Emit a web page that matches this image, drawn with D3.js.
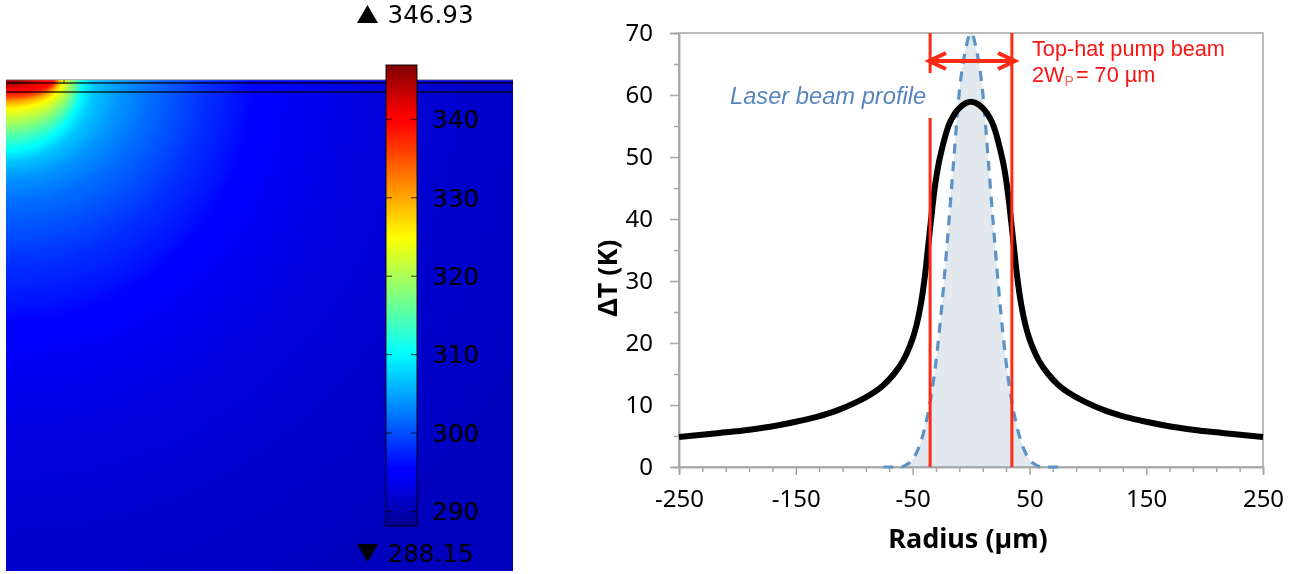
<!DOCTYPE html>
<html>
<head>
<meta charset="utf-8">
<script src="https://cdn.jsdelivr.net/npm/d3@7"></script>
<style>
	html, body { margin: 0; padding: 0; background: #fff; }
	svg { display: block; filter: blur(0.4px); }
	text { fill: #000; }
</style>
</head>
<body>
<svg id="chart"></svg>
<script>
const svgWidth = 1298
const svgHeight = 574

// left panel: isotherms, T in K, reach along surface / into depth in um
const isoTemps = [291.2, 292, 293, 294, 295, 296.5, 298, 300, 302, 304, 307, 310, 314, 318, 322, 325, 328, 331, 335, 338, 340, 342, 344, 346]
const isoRadial = [343.2, 254.4, 204.1, 171.6, 150.9, 139.1, 121.3, 103.6, 85.8, 69.8, 52.7, 45.6, 42.6, 39.6, 36.1, 33.7, 32, 30.8, 29.6, 28.4, 26.6, 19.5, 13, 8.3]
const isoDepth = [338.5, 255.6, 205.3, 169.8, 149.1, 134.9, 112.4, 91.7, 72.2, 59.2, 48.5, 42.6, 34.9, 28.4, 21.9, 17.2, 14.8, 12.4, 10.7, 8.3, 6.5, 4.7, 3, 1.8]
const farFieldTemp = 290.8

const colorbarTicks = [290, 300, 310, 320, 330, 340]
const tempMin = 288.15
const tempMax = 346.93
const jetStops = [0, 0.11, 0.125, 0.375, 0.5, 0.625, 0.875, 0.89, 1]
const jetColors = ["#00008f", "#0000ff", "#0000ff", "#00ffff", "#80ff80", "#ffff00", "#ff0000", "#ff0000", "#800000"]

// right panel: temperature rise and laser profile
const radius = [-250, -215, -195, -172, -150, -132, -115, -97.6, -85, -75, -66, -58, -50, -46.5, -43, -40, -37, -33, -30, -26.5, -18, -9.5, 0, 9.5, 18, 26.5, 30, 33, 37, 40, 43, 46.5, 50, 58, 66, 75, 85, 97.6, 115, 132, 150, 172, 195, 215, 250]
const deltaT = [4.85, 5.5, 5.9, 6.5, 7.3, 8.1, 9.1, 10.5, 11.8, 13.2, 15, 17.2, 20.7, 23, 26.2, 30, 35, 42, 46.4, 50, 55.6, 58, 58.9, 58, 55.6, 50, 46.4, 42, 35, 30, 26.2, 23, 20.7, 17.2, 15, 13.2, 11.8, 10.5, 9.1, 8.1, 7.3, 6.5, 5.9, 5.5, 4.85]
const profileR = [-75, -60, -55, -50, -45, -40, -35, -30, -25, -20, -15, -10, -5, 0, 5, 10, 15, 20, 25, 30, 35, 40, 45, 50, 55, 60, 75]
const profileV = [0, 0, 0.4, 1.2, 3, 6, 10.5, 17, 26, 37, 49, 60.5, 67, 70, 67, 60.5, 49, 37, 26, 17, 10.5, 6, 3, 1.2, 0.4, 0, 0]
const pumpEdges = [-35, 35]

const xMajor = [-250, -150, -50, 50, 150, 250]
const xMinor = [-230, -210, -190, -170, -130, -110, -90, -70, -30, -10, 10, 30, 70, 90, 110, 130, 170, 190, 210, 230]
const yMajor = [0, 10, 20, 30, 40, 50, 60, 70]
const yMinor = [5, 15, 25, 35, 45, 55, 65]

const svg = d3.select("#chart")
	.attr("width", svgWidth)
	.attr("height", svgHeight)
	.attr("viewBox", [0, 0, svgWidth, svgHeight])

const defs = svg.append("defs")

// ---- left panel ----
const map = { left: 6, right: 513, top: 79, bottom: 571, surface: 80 }
const rScale = d3.scaleLinear().domain([0, 300]).range([0, 507])
const depthScale = d3.scaleLinear().domain([0, 290]).range([0, 490])
const jet = d3.scaleLinear()
	.domain(jetStops.map(t => tempMin + t * (tempMax - tempMin)))
	.range(jetColors)
	.clamp(true)

defs.append("clipPath").attr("id", "mapClip")
	.append("rect")
	.attr("x", map.left)
	.attr("y", map.top)
	.attr("width", map.right - map.left)
	.attr("height", map.bottom - map.top)

const mapGroup = svg.append("g").attr("clip-path", "url(#mapClip)")
mapGroup.append("rect")
	.attr("x", map.left)
	.attr("y", map.top)
	.attr("width", map.right - map.left)
	.attr("height", map.bottom - map.top)
	.attr("fill", jet(farFieldTemp))

// shade between neighbouring isotherms so the map looks continuous
const bands = []
const steps = 8
isoTemps.forEach((t, i) => {
	if (i === isoTemps.length - 1) {
		bands.push({ t: t, a: isoRadial[i], b: isoDepth[i] })
		return
	}
	for (let s = 0; s < steps; s++) {
		const f = s / steps
		bands.push({
			t: t + f * (isoTemps[i + 1] - t),
			a: isoRadial[i] + f * (isoRadial[i + 1] - isoRadial[i]),
			b: isoDepth[i] + f * (isoDepth[i + 1] - isoDepth[i])
		})
	}
})

mapGroup.selectAll("ellipse")
	.data(bands)
	.enter().append("ellipse")
	.attr("cx", map.left)
	.attr("cy", map.surface)
	.attr("rx", d => rScale(d.a))
	.attr("ry", d => depthScale(d.b))
	.attr("fill", d => jet(d.t))

// layer boundaries
mapGroup.append("rect").attr("x", map.left).attr("y", map.top).attr("width", 507).attr("height", 1.2).attr("fill", "#b5b5b5")
for (const y of [83, 92]) {
	mapGroup.append("line")
		.attr("x1", map.left).attr("x2", map.right)
		.attr("y1", y).attr("y2", y)
		.attr("stroke", "#000").attr("stroke-opacity", 0.6).attr("stroke-width", 2)
}
mapGroup.append("line")
	.attr("x1", 64).attr("x2", 64).attr("y1", 80).attr("y2", 84)
	.attr("stroke", "#000").attr("stroke-opacity", 0.5).attr("stroke-width", 1.5)

// colorbar
const barY = d3.scaleLinear().domain([tempMin, tempMax]).range([526, 65])
const bar = { left: 386, right: 417 }
const grad = defs.append("linearGradient").attr("id", "jetGrad")
	.attr("x1", 0).attr("x2", 0).attr("y1", 1).attr("y2", 0)
jetStops.forEach((t, i) => {
	grad.append("stop").attr("offset", t).attr("stop-color", jetColors[i])
})
svg.append("rect")
	.attr("x", bar.left)
	.attr("y", barY(tempMax))
	.attr("width", bar.right - bar.left)
	.attr("height", barY(tempMin) - barY(tempMax))
	.attr("fill", "url(#jetGrad)")
	.attr("stroke", "#000")
	.attr("stroke-opacity", 0.75)
	.attr("stroke-width", 1.2)

const barTick = svg.selectAll("g.barTick")
	.data(colorbarTicks)
	.enter().append("g")
	.attr("class", "barTick")
	.attr("transform", d => `translate(0,${barY(d)})`)
barTick.append("line").attr("x1", bar.left).attr("x2", bar.left + 6).attr("stroke", "#000").attr("stroke-opacity", 0.8)
barTick.append("line").attr("x1", bar.right - 6).attr("x2", bar.right).attr("stroke", "#000").attr("stroke-opacity", 0.8)
barTick.append("text")
	.attr("x", 432.5)
	.attr("dy", "0.36em")
	.style("font", "24.6px 'DejaVu Sans'")
	.text(d => d)

svg.append("path").attr("d", "M357,23L367.5,5L378,23Z").attr("fill", "#000")
svg.append("path").attr("d", "M357,544L367.5,562L378,544Z").attr("fill", "#000")
svg.append("text").attr("x", 387.5).attr("y", 23).style("font", "24.6px 'DejaVu Sans'").text(tempMax.toFixed(2))
svg.append("text").attr("x", 387.5).attr("y", 562).style("font", "24.6px 'DejaVu Sans'").text(tempMin.toFixed(2))

// ---- right panel ----
const plot = { left: 679, right: 1263, top: 33, bottom: 467 }
const x = d3.scaleLinear().domain([-250, 250]).range([plot.left, plot.right])
const y = d3.scaleLinear().domain([0, 70]).range([plot.bottom, plot.top])
const grey = "#a6a6a6"
const labelFont = "24px 'Noto Sans'"

const area = d3.area().x((d, i) => x(profileR[i])).y0(y(0)).y1(d => y(d)).curve(d3.curveMonotoneX)
const line = d3.line().x((d, i) => x(profileR[i])).y(d => y(d)).curve(d3.curveMonotoneX)
const blackLine = d3.line().x((d, i) => x(radius[i])).y(d => y(d)).curve(d3.curveCatmullRom)

svg.append("path").datum(profileV).attr("d", area).attr("fill", "#e1e8ee")

// frame
svg.append("rect")
	.attr("x", plot.left).attr("y", plot.top)
	.attr("width", plot.right - plot.left).attr("height", plot.bottom - plot.top)
	.attr("fill", "none").attr("stroke", grey).attr("stroke-width", 1.5)

const xAxis = d3.axisBottom(x).tickValues(xMajor).tickSize(8).tickPadding(15).tickFormat(String)
const xAxisMinor = d3.axisBottom(x).tickValues(xMinor).tickSize(5).tickFormat("")
const yAxis = d3.axisLeft(y).tickValues(yMajor).tickSize(9).tickPadding(17).tickFormat(String)
const yAxisMinor = d3.axisLeft(y).tickValues(yMinor).tickSize(5).tickFormat("")

for (const [axis, transform] of [
	[xAxisMinor, `translate(0,${plot.bottom})`],
	[xAxis, `translate(0,${plot.bottom})`],
	[yAxisMinor, `translate(${plot.left},0)`],
	[yAxis, `translate(${plot.left},0)`]
]) {
	const g = svg.append("g").attr("transform", transform).call(axis)
	g.select(".domain").attr("stroke", grey).attr("stroke-width", 1.5)
	g.selectAll(".tick line").attr("stroke", grey).attr("stroke-width", 1.5)
	g.selectAll(".tick text").attr("fill", "#000").style("font", labelFont)
}

svg.append("path").datum(profileV).attr("d", line)
	.attr("fill", "none")
	.attr("stroke", "#5b93c7")
	.attr("stroke-width", 3.2)
	.attr("stroke-dasharray", "10,8")

svg.append("path").datum(deltaT).attr("d", blackLine)
	.attr("fill", "none")
	.attr("stroke", "#000")
	.attr("stroke-width", 6)

// pump beam edges and arrow
const red = "#ff2a12"
svg.append("line").attr("x1", x(pumpEdges[0])).attr("x2", x(pumpEdges[0])).attr("y1", plot.top).attr("y2", 73).attr("stroke", red).attr("stroke-width", 3)
svg.append("line").attr("x1", x(pumpEdges[0])).attr("x2", x(pumpEdges[0])).attr("y1", 118).attr("y2", plot.bottom).attr("stroke", red).attr("stroke-width", 3)
svg.append("line").attr("x1", x(pumpEdges[1])).attr("x2", x(pumpEdges[1])).attr("y1", plot.top).attr("y2", plot.bottom).attr("stroke", red).attr("stroke-width", 3)
svg.append("path")
	.attr("d", "M929,61H1015M946,53L929,61L946,69M998,53L1015,61L998,69")
	.attr("fill", "none")
	.attr("stroke", red)
	.attr("stroke-width", 4)

const redText = svg.append("g").style("font", "21.7px 'Liberation Sans'")
redText.append("text").attr("x", 1032).attr("y", 56).style("fill", "#fb1414").text("Top-hat pump beam")
const wp = redText.append("text").attr("x", 1032).attr("y", 82).style("fill", "#fb1414")
wp.append("tspan").text("2W")
wp.append("tspan").attr("dy", 4).style("font-size", "14px").style("fill", "#ff6a5a").text("P")
wp.append("tspan").attr("dy", -4).attr("dx", 2).text("= 70 µm")

svg.append("text")
	.attr("x", 730).attr("y", 104)
	.style("font", "italic 23.7px 'Liberation Sans'")
	.style("fill", "#5584be")
	.text("Laser beam profile")

svg.append("text")
	.attr("x", 968).attr("y", 548)
	.attr("text-anchor", "middle")
	.style("font", "bold 27px 'Noto Sans'")
	.text("Radius (µm)")
svg.append("text")
	.attr("transform", "translate(617,278) rotate(-90)")
	.attr("text-anchor", "middle")
	.style("font", "bold 27px 'Noto Sans'")
	.text("ΔT (K)")
</script>
</body>
</html>
